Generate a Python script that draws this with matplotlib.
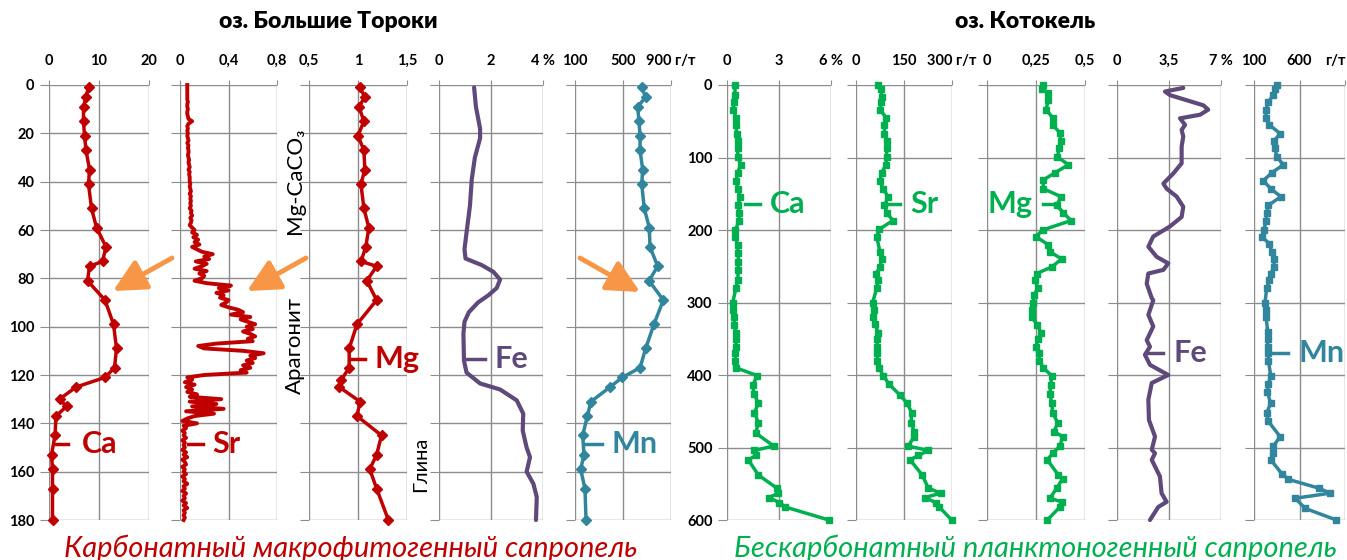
import matplotlib
matplotlib.use('Agg')
import matplotlib.pyplot as plt

# ---------------- data: оз. Большие Тороки (depth 0-180) ----------------
ca1_depth = [1, 5, 9, 15, 21, 27, 35, 41, 51, 59, 67, 73, 75, 81, 89, 99, 109, 117, 121, 125, 130, 133, 137, 145, 153, 159, 167, 180]
ca1_val = [7.9, 7.4, 6.9, 6.9, 7.1, 7.4, 8.1, 7.9, 8.5, 9.5, 11.4, 10.7, 8.1, 7.7, 11.2, 12.9, 13.5, 13.1, 11.2, 5.4, 2.1, 3.5, 1.4, 1.2, 0.5, 0.7, 0.7, 0.7]

sr1_depth = list(range(0, 181))
sr1_val = [0.06, 0.06, 0.06, 0.06, 0.06, 0.06, 0.06, 0.065, 0.06, 0.06, 0.065, 0.06, 0.06, 0.065, 0.07,
           0.10, 0.07, 0.06, 0.065, 0.06,
           0.065, 0.06, 0.065, 0.07, 0.06, 0.07, 0.065, 0.07, 0.07, 0.065,
           0.07, 0.075, 0.07, 0.075, 0.08, 0.07, 0.08, 0.075, 0.08, 0.08,
           0.08, 0.085, 0.08, 0.085, 0.09, 0.08, 0.09, 0.085, 0.09, 0.085,
           0.09, 0.08, 0.095, 0.09, 0.10, 0.085, 0.095, 0.09, 0.08, 0.10,
           0.12, 0.10, 0.14, 0.11, 0.15, 0.12, 0.16, 0.10, 0.14, 0.18,
           0.27, 0.20, 0.24, 0.13, 0.22, 0.18, 0.12, 0.22, 0.16, 0.20,
           0.18, 0.12, 0.22, 0.42, 0.32, 0.40, 0.30, 0.36, 0.33, 0.40,
           0.38, 0.34, 0.40, 0.48, 0.52, 0.42, 0.58, 0.50, 0.56, 0.62,
           0.55, 0.60, 0.52, 0.58, 0.62, 0.56, 0.60, 0.30, 0.15, 0.20,
           0.52, 0.69, 0.58, 0.62, 0.55, 0.60, 0.52, 0.58, 0.50, 0.55,
           0.20, 0.06, 0.10, 0.04, 0.12, 0.05, 0.10, 0.06, 0.14, 0.08,
           0.34, 0.08, 0.30, 0.10, 0.36, 0.05, 0.28, 0.12, 0.06, 0.02,
           0.14, 0.03, 0.05, 0.02, 0.04, 0.03, 0.05, 0.02, 0.04, 0.03,
           0.04, 0.02, 0.05, 0.03, 0.06, 0.02, 0.04, 0.05, 0.02, 0.04,
           0.03, 0.05, 0.02, 0.04, 0.03, 0.06, 0.03, 0.04, 0.02, 0.05,
           0.03, 0.04, 0.02, 0.05, 0.03, 0.06, 0.03, 0.04, 0.03, 0.04, 0.03]

mg1_depth = [1, 5, 9, 15, 21, 27, 35, 41, 51, 59, 67, 73, 75, 81, 89, 99, 109, 117, 122, 125, 131, 137, 145, 153, 159, 167, 180]
mg1_val = [1.02, 1.07, 1.01, 1.06, 1.00, 1.06, 1.07, 1.03, 1.06, 1.11, 1.08, 1.03, 1.19, 1.09, 1.19, 0.99, 0.91, 0.91, 0.83, 0.81, 1.02, 0.99, 1.24, 1.19, 1.12, 1.19, 1.31]

fe1_depth = [1, 9, 18, 22, 30, 39, 50, 61, 68, 71.8, 74.5, 77.3, 80.5, 84, 87, 90, 94, 98, 103, 114, 119, 123.5, 126, 130.5, 136, 143, 150, 154, 160, 165, 170.5, 180]
fe1_val = [1.35, 1.42, 1.58, 1.58, 1.38, 1.26, 1.19, 1.06, 0.98, 1.02, 1.64, 2.09, 2.35, 2.22, 1.90, 1.50, 1.15, 0.98, 0.94, 0.96, 1.06, 1.58, 2.35, 2.99, 3.24, 3.22, 3.37, 3.50, 3.37, 3.63, 3.76, 3.73]

mn1_depth = [1, 5, 9, 15, 21, 27, 35, 41, 51, 59, 67, 75, 81, 89, 99, 109, 117, 121, 125, 131, 137, 145, 153, 159, 167, 180]
mn1_val = [656, 689, 622, 633, 642, 642, 664, 656, 677, 719, 725, 789, 717, 836, 758, 689, 642, 494, 392, 233, 203, 164, 175, 147, 183, 192]

# ---------------- data: оз. Котокель (depth 0-600) ----------------
ca2_depth = [0, 14, 23, 34, 45, 55, 67, 77, 87, 99, 110, 121, 132, 143, 154, 166, 177, 187, 200, 210, 221, 232, 244, 255, 269, 280, 300, 310, 320, 331, 342, 351, 361, 370, 380, 390, 401, 414, 426, 439, 452, 466, 480, 498, 504, 511, 517, 538, 556, 563, 569, 576, 582, 600]
ca2_val = [0.46, 0.46, 0.40, 0.37, 0.52, 0.52, 0.56, 0.62, 0.62, 0.62, 0.79, 0.62, 0.52, 0.62, 0.75, 0.65, 0.71, 0.71, 0.48, 0.48, 0.62, 0.65, 0.65, 0.65, 0.62, 0.52, 0.33, 0.37, 0.42, 0.42, 0.52, 0.52, 0.52, 0.48, 0.48, 0.52, 1.75, 1.48, 1.56, 1.81, 1.58, 1.81, 1.66, 2.69, 1.58, 1.67, 1.23, 1.81, 2.87, 2.96, 2.42, 3.02, 3.35, 5.88]

sr2_depth = [0, 6, 16, 23, 34, 45, 55, 67, 77, 87, 99, 110, 121, 132, 144, 154, 166, 176, 187, 199, 210, 230, 240, 251, 260, 269, 280, 300, 310, 320, 330, 342, 351, 361, 370, 380, 390, 401, 413, 428, 439, 452, 466, 478, 485, 498, 504, 511, 517, 538, 556, 563, 569, 576, 582, 600]
sr2_val = [70, 77, 81, 79, 75, 94, 89, 89, 96, 96, 96, 94, 80, 75, 85, 101, 89, 96, 115, 73, 65, 75, 80, 75, 63, 70, 65, 52, 57, 54, 59, 70, 65, 67, 67, 67, 72, 85, 104, 138, 160, 174, 172, 182, 182, 163, 226, 195, 169, 207, 226, 265, 216, 249, 260, 299]

mg2_depth = [0, 5, 11, 21, 34, 46, 55, 66, 77, 87, 99, 110, 121, 131, 143, 154, 166, 176, 187, 200, 209, 220, 230, 240, 251, 260, 269, 280, 290, 300, 310, 320, 331, 342, 351, 361, 370, 380, 390, 401, 414, 426, 439, 452, 466, 478, 485, 498, 508, 517, 538, 543, 556, 570, 575, 582, 600]
mg2_val = [0.284, 0.279, 0.313, 0.313, 0.301, 0.338, 0.335, 0.372, 0.376, 0.369, 0.359, 0.415, 0.347, 0.287, 0.287, 0.378, 0.356, 0.389, 0.429, 0.284, 0.250, 0.310, 0.321, 0.381, 0.330, 0.254, 0.245, 0.259, 0.240, 0.236, 0.228, 0.228, 0.257, 0.276, 0.259, 0.250, 0.267, 0.267, 0.287, 0.330, 0.325, 0.321, 0.330, 0.335, 0.361, 0.342, 0.386, 0.372, 0.335, 0.308, 0.364, 0.386, 0.356, 0.321, 0.381, 0.372, 0.308]

fe2_depth = [4, 9, 14, 21, 28, 34, 41, 46, 55, 62, 71, 85, 108, 122, 136, 143, 154, 168, 182, 195, 209, 223, 237, 246, 255, 260, 274, 294, 297, 317, 333, 352, 361, 372, 386, 400, 411, 434, 462, 485, 503, 508, 517, 540, 563, 575, 582, 600]
fe2_val = [4.46, 3.23, 3.57, 4.69, 5.81, 6.14, 5.59, 4.24, 4.58, 4.35, 4.46, 4.35, 4.35, 3.79, 3.12, 3.34, 4.02, 4.46, 4.35, 3.57, 2.44, 2.11, 2.67, 3.45, 3.12, 2.11, 2.00, 2.34, 2.44, 2.11, 2.44, 2.00, 2.22, 1.88, 2.22, 3.45, 2.34, 2.11, 2.15, 2.56, 2.34, 2.56, 2.34, 2.89, 3.00, 3.34, 2.78, 2.22]

mn2_depth = [0, 6, 14, 23, 34, 45, 55, 67, 77, 87, 99, 110, 121, 132, 143, 154, 166, 177, 187, 200, 209, 219, 230, 240, 251, 260, 269, 280, 300, 310, 320, 340, 351, 361, 370, 380, 401, 412, 424, 439, 452, 464, 485, 498, 508, 517, 536, 544, 556, 563, 570, 584, 600]
mn2_val = [350, 332, 313, 258, 232, 232, 269, 387, 321, 332, 350, 423, 295, 203, 284, 395, 258, 240, 232, 210, 185, 269, 295, 321, 321, 284, 269, 240, 221, 232, 232, 251, 251, 251, 258, 258, 284, 258, 247, 284, 240, 258, 387, 313, 306, 284, 405, 479, 810, 939, 553, 663, 1005]

# ---------------- axes settings ----------------
left_ticks = [[0, 10, 20], [0, 0.4, 0.8], [0.5, 1, 1.5], [0, 2, 4], [100, 500, 900]]
left_labels = [["0", "10", "20"], ["0", "0,4", "0,8"], ["0,5", "1", "1,5"], ["0", "2", "4 %"], ["100", "500", "900 г/т"]]
right_ticks = [[0, 3, 6], [0, 150, 300], [0, 0.25, 0.5], [0, 3.5, 7], [100, 600, 1100]]
right_labels = [["0", "3", "6 %"], ["0", "150", "300 г/т"], ["0", "0,25", "0,5"], ["0", "3,5", "7 %"], ["100", "600", "г/т"]]
left_depth_ticks = [0, 20, 40, 60, 80, 100, 120, 140, 160, 180]
right_depth_ticks = [0, 100, 200, 300, 400, 500, 600]

RED = '#C00000'
PURPLE = '#5F497A'
TEAL = '#31859C'
GREEN = '#00B050'
ORANGE = '#F79646'
GRID = '#8C8C8C'

FONT = ['Lato', 'Open Sans', 'DejaVu Sans']
plt.rcParams['font.family'] = FONT

W, H = 1347, 560
fig = plt.figure(figsize=(W / 100, H / 100), dpi=100)
fig.patch.set_facecolor('white')

left_px = [(49, 149), (180, 277), (309, 407), (439, 543), (575, 671)]
right_px = [(727, 831), (856, 952), (987, 1085), (1117, 1221), (1254, 1345)]
Y0, Y1 = 85, 520


def make_ax(px, ticks, labels, dmax, dticks, show_depth):
    x0, x1 = px
    ax = fig.add_axes([x0 / W, 1 - Y1 / H, (x1 - x0) / W, (Y1 - Y0) / H])
    ax.set_xlim(ticks[0], ticks[-1])
    ax.set_ylim(dmax, 0)
    ax.xaxis.tick_top()
    ax.set_xticks(ticks)
    ax.set_xticklabels(labels, fontsize=10.5, fontweight='bold')
    ax.set_yticks(dticks)
    if show_depth:
        ax.set_yticklabels([str(t) for t in dticks], fontsize=10.5, fontweight='bold')
    else:
        ax.set_yticklabels([])
    ax.tick_params(axis='x', length=3.5, color=GRID, pad=9)
    ax.tick_params(axis='y', length=6.5, color=GRID, pad=4)
    for s in ax.spines.values():
        s.set_visible(False)
    ax.grid(True, color=GRID, lw=1)
    ax.set_axisbelow(True)
    ax.patch.set_alpha(0)
    return ax


axl = [make_ax(left_px[i], left_ticks[i], left_labels[i], 180, left_depth_ticks, i == 0) for i in range(5)]
axr = [make_ax(right_px[i], right_ticks[i], right_labels[i], 600, right_depth_ticks, i == 0) for i in range(5)]
axr[4].get_xticklabels()[-1].set_ha('right')

kw = dict(lw=2.5, clip_on=False, zorder=3, solid_joinstyle='round')
axl[0].plot(ca1_val, ca1_depth, color=RED, marker='D', ms=5.5, **kw)
axl[1].plot(sr1_val, sr1_depth, color=RED, lw=2.8, clip_on=False, zorder=3)
axl[2].plot(mg1_val, mg1_depth, color=RED, marker='D', ms=5.5, **kw)
axl[3].plot(fe1_val, fe1_depth, color=PURPLE, lw=3, clip_on=False, zorder=3, solid_joinstyle='round', solid_capstyle='round')
axl[4].plot(mn1_val, mn1_depth, color=TEAL, marker='D', ms=5.5, **kw)

axr[0].plot(ca2_val, ca2_depth, color=GREEN, marker='s', ms=5, **kw)
axr[1].plot(sr2_val, sr2_depth, color=GREEN, marker='s', ms=5, **kw)
axr[2].plot(mg2_val, mg2_depth, color=GREEN, marker='s', ms=5, **kw)
axr[3].plot(fe2_val, fe2_depth, color=PURPLE, lw=3, clip_on=False, zorder=3, solid_joinstyle='round', solid_capstyle='round')
axr[4].plot(mn2_val, mn2_depth, color=TEAL, marker='s', ms=5, **kw)


def elem_label(ax, d, xa, xb, xt, text, color, ha='left'):
    ax.plot([xa, xb], [d, d], color=color, lw=2.5, clip_on=False, zorder=4)
    ax.text(xt, d, text, color=color, fontsize=22, fontweight='bold', ha=ha, va='center', zorder=5)


elem_label(axl[0], 148.7, 1.4, 3.8, 6.6, 'Ca', RED)
elem_label(axl[1], 148.7, 0.066, 0.19, 0.27, 'Sr', RED)
elem_label(axl[2], 113.5, 0.918, 1.071, 1.173, 'Mg', RED)
elem_label(axl[3], 113.5, 1.08, 1.77, 2.12, 'Fe', PURPLE)
elem_label(axl[4], 148.7, 192, 325, 408, 'Mn', TEAL)
elem_label(axr[0], 164, 1.04, 1.90, 2.48, 'Ca', GREEN)
elem_label(axr[1], 164, 97, 137, 169, 'Sr', GREEN)
elem_label(axr[2], 164, 0.286, 0.347, 0.23, 'Mg', GREEN, ha='right')
elem_label(axr[3], 370, 2.02, 3.10, 3.77, 'Fe', PURPLE)
elem_label(axr[4], 370, 255, 475, 586, 'Mn', TEAL)

# rotated facies labels
fig.text(295 / W, 1 - 181 / H, 'Mg-CaCO₃', rotation=90, ha='center', va='center', fontsize=16, color='black')
fig.text(295 / W, 1 - 345 / H, 'Арагонит', rotation=90, ha='center', va='center', fontsize=16, color='black')
fig.text(421 / W, 1 - 464 / H, 'Глина', rotation=90, ha='center', va='center', fontsize=14.5, color='black')

# arrows
arrows = [((172, 258), (113, 291)), ((306, 258), (247, 291)), ((580, 258), (640, 292))]
for (sx, sy), (ex, ey) in arrows:
    fig.add_artist(matplotlib.patches.FancyArrowPatch(
        (sx / W, 1 - sy / H), (ex / W, 1 - ey / H), transform=fig.transFigure,
        arrowstyle='-|>,head_length=0.9,head_width=0.45', mutation_scale=22,
        color=ORANGE, lw=3.5, shrinkA=0, shrinkB=0, zorder=10))

# titles
fig.text(328 / W, 1 - 22 / H, 'оз. Большие Тороки', ha='center', va='center', fontsize=16.5, fontweight='heavy')
fig.text(1025 / W, 1 - 22 / H, 'оз. Котокель', ha='center', va='center', fontsize=16.5, fontweight='heavy')

# bottom captions
fig.text(351 / W, 1 - 548 / H, 'Карбонатный макрофитогенный сапропель', ha='center', va='center',
         fontsize=21, style='italic', color=RED)
fig.text(1035 / W, 1 - 548 / H, 'Бескарбонатный планктоногенный сапропель', ha='center', va='center',
         fontsize=21, style='italic', color=GREEN)

fig.savefig('out.png', dpi=100)
